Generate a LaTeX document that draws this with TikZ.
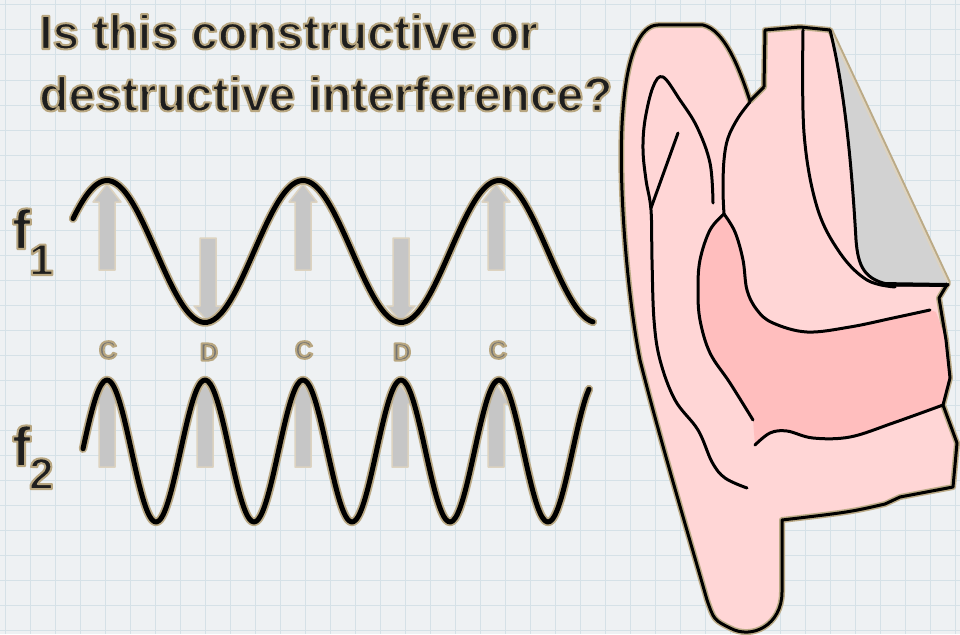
\documentclass[tikz,border=0pt]{standalone}
\usepackage{fontspec}
\setmainfont{Liberation Sans}
\definecolor{paper}{HTML}{EEF1F3}
\definecolor{gridc}{HTML}{D5E1E7}
\definecolor{halo}{HTML}{BBAA86}
\definecolor{ink}{HTML}{1E1E1E}
\definecolor{barfill}{HTML}{C6C6C6}
\definecolor{baredge}{HTML}{DDD3C0}
\definecolor{skin}{HTML}{FFD6D6}
\definecolor{skindark}{HTML}{FFBEBE}
\definecolor{flap}{HTML}{D2D2D2}
% text filled in the current colour and stroked with a tan rim
\newcommand\rimtext[2][2]{%
  \special{pdf:literal direct 2 Tr #1 w 1 j 0.72 0.65 0.50 RG}#2%
  \special{pdf:literal direct 0 Tr}}
\tikzset{
  gridline/.style={gridc, line width=1pt},
  titletext/.style={inner sep=0pt, anchor=base west, text=ink, font=\fontsize{48}{56}\selectfont\bfseries},
  flabel/.style={inner sep=0pt, anchor=base west, text=ink, font=\fontsize{56}{62}\selectfont\bfseries},
  fsub/.style={inner sep=0pt, anchor=base west, text=ink, font=\fontsize{44}{50}\selectfont\bfseries},
  cdlabel/.style={inner sep=0pt, text=black!55, font=\fontsize{25}{30}\selectfont\bfseries},
  arrowbar/.style={fill=barfill, draw=baredge, line width=1.5pt, line join=round},
  wavehalo/.style={halo, line width=8.5pt, line cap=round, line join=round},
  wave/.style={black, line width=5pt, line cap=round, line join=round},
  earline/.style={black, line width=3pt, line cap=round, line join=round},
  earedge/.style={draw=black, line width=3pt, line join=round},
}
% gray arrow: centre x, tip y, shoulder y, tail y
\newcommand\ptarrow[4]{%
  \draw[arrowbar] (#1-8,#4) -- (#1-8,#3) -- (#1-14,#3) -- (#1,#2)
    -- (#1+14,#3) -- (#1+8,#3) -- (#1+8,#4) -- cycle;}
\begin{document}
\begin{tikzpicture}[x=1pt, y=-1pt]
% paper and grid
\fill[paper] (0,0) rectangle (960,634);
\useasboundingbox (0,0) rectangle (960,634);
\foreach \i in {0,...,38} \draw[gridline] (5+25*\i,0) -- (5+25*\i,634);
\foreach \j in {0,...,25} \draw[gridline] (0,5+25*\j) -- (960,5+25*\j);

% question
\node[titletext] (q1) at (39,49) {\rimtext{Is this constructive or}};
\node[titletext] (q2) at (39,111) {\rimtext{destructive interference?}};

% wave labels
\node[flabel] (f1) at (12,249) {\rimtext{f}};
\node[fsub] (f1s) at (29,275) {\rimtext{1}};
\node[flabel] (f2) at (12,466) {\rimtext{f}};
\node[fsub] (f2s) at (29,489) {\rimtext{2}};

% arrows under the first wave
\foreach \xc in {107,303,496} \ptarrow{\xc}{184}{202}{270};
\foreach \xc in {208,401} \ptarrow{\xc}{322}{306}{238};
% arrows under the second wave
\foreach \xc in {107,205,303,400,496} \ptarrow{\xc}{384}{404}{467};

% first wave
\draw[wavehalo] plot[domain=73:593, samples=160, smooth] (\x, {251.5-71*cos((\x-107)/196*360)});
\draw[wave] plot[domain=73:593, samples=160, smooth] (\x, {251.5-71*cos((\x-107)/196*360)});
% second wave
\draw[wavehalo] plot[domain=83:589, samples=220, smooth] (\x, {451-71*cos((\x-107)/98*360)});
\draw[wave] plot[domain=83:589, samples=220, smooth] (\x, {451-71*cos((\x-107)/98*360)});

% C / D marks
\node[cdlabel] (m1) at (108,350) {\rimtext{C}};
\node[cdlabel] (m2) at (209,352) {\rimtext{D}};
\node[cdlabel] (m3) at (304,350) {\rimtext{C}};
\node[cdlabel] (m4) at (402,352) {\rimtext{D}};
\node[cdlabel] (m5) at (498,350) {\rimtext{C}};

% ---- ear ----
% outer body
\path[fill=skin, draw=halo, line width=6pt, line join=round]
  (658,25) -- (703,25) .. controls (725,30) and (740,70) .. (750,101)
  -- (764,87) -- (765,30) -- (800,27) -- (830,30) -- (948,283)
  -- (939,298) -- (946,340) -- (950,378) -- (943,405) -- (957,443) -- (953,487)
  -- (900,497) -- (885,504) .. controls (850,512) .. (782,520)
  -- (782,592) .. controls (782,625) and (752,640) .. (730,628)
  .. controls (714,620) .. (707,600)
  .. controls (690,540) and (660,440) .. (640,360)
  .. controls (628,300) and (617,180) .. (623,110)
  .. controls (627,55) and (640,25) .. (658,25) -- cycle;
% darker concha
\fill[skindark]
  plot[smooth, tension=0.6] coordinates {(724,214) (710,230) (700,260) (698,290) (700,320) (710,353) (730,383) (753,420)}
  -- (755,445)
  -- plot[smooth, tension=0.6] coordinates {(755,445) (770,433) (787,431) (813,438) (850,437) (893,423) (943,405)}
  -- (950,378) -- (946,340) -- (936,312)
  -- plot[smooth, tension=0.6] coordinates {(930,310) (893,318) (850,327) (807,332) (773,323) (757,310) (747,290) (743,260) (735,232) (724,214)}
  -- cycle;
% gray flap
\fill[flap] (830,30) -- (948,283) -- (893,285)
  .. controls (864,281) and (858,266) .. (856,240)
  .. controls (852,170) and (845,90) .. (830,30) -- cycle;
% outline of the body
\draw[earedge]
  (764,87) -- (765,30) -- (800,27) -- (830,30);
\draw[earedge]
  (948,283) -- (939,298) -- (946,340) -- (950,378) -- (943,405) -- (957,443) -- (953,487)
  -- (900,497) -- (885,504) .. controls (850,512) .. (782,520)
  -- (782,592) .. controls (782,625) and (752,640) .. (730,628)
  .. controls (714,620) .. (707,600)
  .. controls (690,540) and (660,440) .. (640,360)
  .. controls (628,300) and (617,180) .. (623,110)
  .. controls (627,55) and (640,25) .. (658,25)
  -- (703,25) .. controls (725,30) and (740,70) .. (750,101) -- (764,87);
\draw[baredge, line width=2pt] (830,30) -- (948,283);
% flap edges
\draw[earline] (830,30) .. controls (845,90) and (852,170) .. (856,240)
  .. controls (858,266) and (864,281) .. (893,285) -- (948,285);
\draw[earline, line width=4pt] (880,284) -- (946,285);
% inner folds
\draw[earline] plot[smooth, tension=0.6] coordinates {(803,30) (804,133) (817,207) (840,253) (867,280) (895,287)};
\draw[earline] plot[smooth, tension=0.6] coordinates {(713,203) (710,163) (697,127) (680,100) (663,77) (653,87) (645,120) (643,150) (646,180) (651,210) (652,260) (654,320) (660,360) (675,400) (698,430) (712,462) (725,478) (747,488)};
\draw[earline] (678,133) -- (651,208);
\draw[earline] plot[smooth, tension=0.6] coordinates {(750,102) (738,118) (728,138) (724,160) (723,190) (724,214)};
\draw[earline] plot[smooth, tension=0.6] coordinates {(724,214) (710,230) (700,260) (698,290) (700,320) (710,353) (730,383) (753,420)};
\draw[earline] plot[smooth, tension=0.6] coordinates {(724,214) (735,232) (743,260) (747,290) (757,310) (773,323) (807,332) (850,327) (893,318) (930,310)};
\draw[earline] plot[smooth, tension=0.6] coordinates {(755,445) (770,433) (787,431) (813,438) (850,437) (893,423) (943,405)};
\end{tikzpicture}
\end{document}
